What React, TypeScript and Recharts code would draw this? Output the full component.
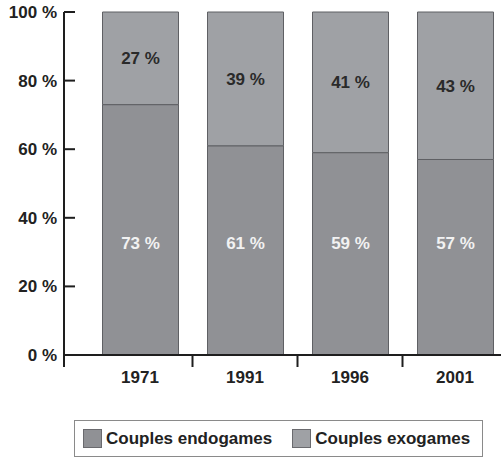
import { BarChart, Bar, XAxis, YAxis, LabelList } from "recharts";

const years = ["1971", "1991", "1996", "2001"];
const endogames = [73, 61, 59, 57];
const exogames = [27, 39, 41, 43];
const yTicks = [0, 20, 40, 60, 80, 100];

const data = years.map((year, i) => ({
  year,
  endo: endogames[i],
  exo: exogames[i],
}));

const FONT = "'Liberation Sans', Arial, Helvetica, sans-serif";
const ENDO_COLOR = "#909195";
const EXO_COLOR = "#9fa1a5";
const BAR_STROKE = "#5f6064";
const AXIS = "#1e1e1e";
const PAD_LEFT = 23.5;

const YTick = (props: any) => {
  const { x, y, payload } = props;
  return (
    <g>
      <line x1={x} x2={x + 11} y1={y} y2={y} stroke={AXIS} strokeWidth={2} />
      <text
        x={x - 7}
        y={y}
        dy={6}
        textAnchor="end"
        fontFamily={FONT}
        fontWeight="bold"
        fontSize={17}
        fill="#222"
      >
        {`${payload.value} %`}
      </text>
    </g>
  );
};

const XTick = (props: any) => {
  const { x, y, payload, index } = props;
  const half = payload.offset ?? 52.5;
  return (
    <g>
      {index === 0 && (
        <line x1={x - half - PAD_LEFT} x2={x - half - PAD_LEFT} y1={y - 1} y2={y + 12} stroke={AXIS} strokeWidth={2} />
      )}
      {index < years.length - 1 && (
        <line x1={x + half} x2={x + half} y1={y} y2={y + 12} stroke={AXIS} strokeWidth={2} />
      )}
      <text
        x={x}
        y={y + 28}
        textAnchor="middle"
        fontFamily={FONT}
        fontWeight="bold"
        fontSize={17}
        fill="#222"
      >
        {payload.value}
      </text>
    </g>
  );
};

const LegendBox = () => {
  const items = [
    { label: "Couples endogames", color: ENDO_COLOR },
    { label: "Couples exogames", color: EXO_COLOR },
  ];
  return (
    <div
      style={{
        position: "absolute",
        left: 74,
        top: 420,
        boxSizing: "border-box",
        width: 409,
        height: 37,
        border: "1px solid #8a8a8a",
        display: "flex",
        alignItems: "center",
        paddingLeft: 8,
        fontFamily: FONT,
        fontWeight: "bold",
        fontSize: 17,
        color: "#222",
      }}
    >
      {items.map((it, i) => (
        <div key={it.label} style={{ display: "flex", alignItems: "center", marginRight: i === 0 ? 20 : 0 }}>
          <span
            style={{
              display: "inline-block",
              boxSizing: "border-box",
              width: 19,
              height: 19,
              background: it.color,
              border: "1px solid #6a6a6e",
              marginRight: 4,
            }}
          />
          <span>{it.label}</span>
        </div>
      ))}
    </div>
  );
};

export default function App() {
  return (
    <div style={{ position: "absolute", left: 0, top: 0, width: 501, height: 458, overflow: "hidden", background: "#fff" }}>
      <BarChart
        width={520}
        height={458}
        data={data}
        margin={{ top: 12, right: 12.5, bottom: 73, left: 0 }}
        barSize={76}
      >
        <XAxis
          dataKey="year"
          padding={{ left: PAD_LEFT, right: 0 }}
          axisLine={{ stroke: AXIS, strokeWidth: 2 }}
          tickLine={false}
          tickSize={0}
          tickMargin={0}
          tick={<XTick />}
          height={30}
          interval={0}
        />
        <YAxis
          domain={[0, 100]}
          ticks={yTicks}
          width={64}
          axisLine={{ stroke: AXIS, strokeWidth: 2 }}
          tickLine={false}
          tickSize={0}
          tickMargin={0}
          tick={<YTick />}
          interval={0}
        />
        <Bar dataKey="endo" stackId="a" fill={ENDO_COLOR} stroke={BAR_STROKE} strokeWidth={1} isAnimationActive={false}>
          <LabelList
            dataKey="endo"
            position="insideBottom"
            offset={106}
            formatter={(v: any) => `${v} %`}
            fill="#f2f2f2"
            fontFamily={FONT}
            fontWeight="bold"
            fontSize={17}
          />
        </Bar>
        <Bar dataKey="exo" stackId="a" fill={EXO_COLOR} stroke={BAR_STROKE} strokeWidth={1} isAnimationActive={false}>
          <LabelList
            dataKey="exo"
            position="center"
            formatter={(v: any) => `${v} %`}
            fill="#2a2a2a"
            fontFamily={FONT}
            fontWeight="bold"
            fontSize={17}
          />
        </Bar>
      </BarChart>
      <LegendBox />
    </div>
  );
}
